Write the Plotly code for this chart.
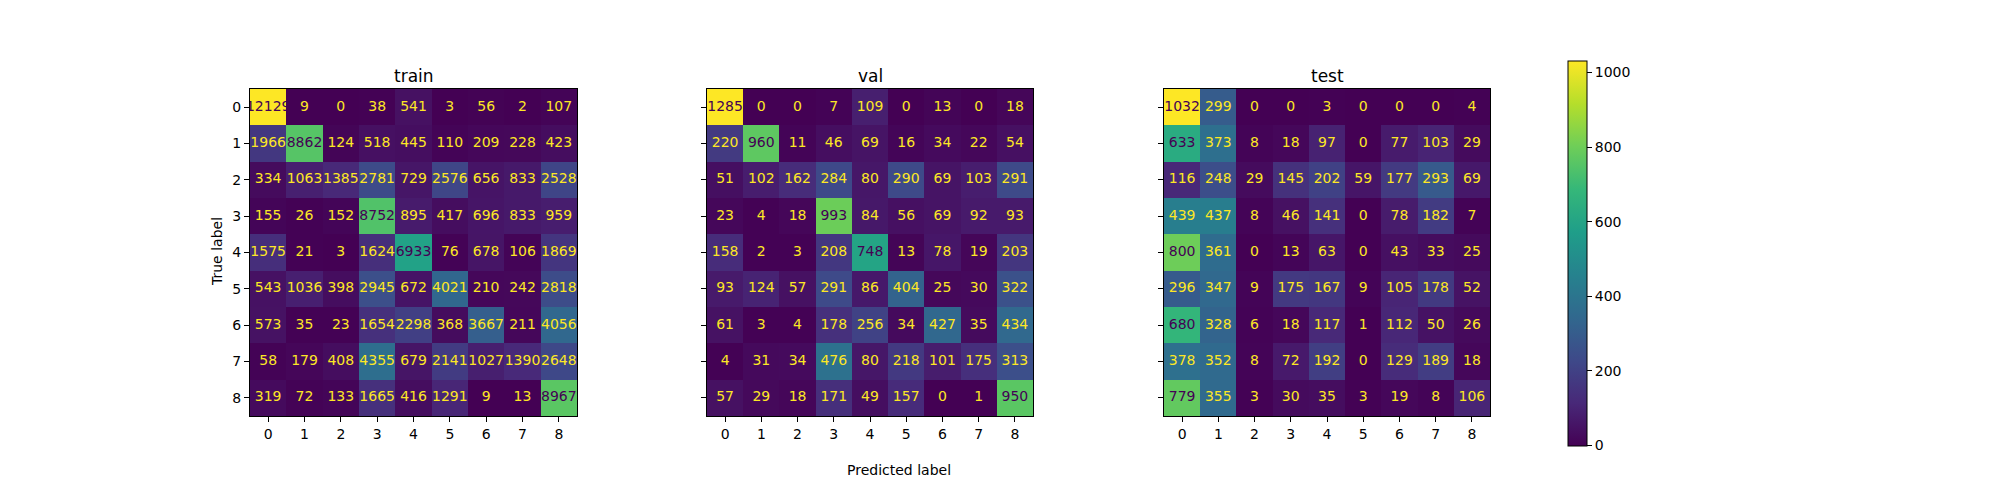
import plotly.graph_objects as go

labels = list(range(9))
panel_names = ["train", "val", "test"]

train_cm = [
    [12129, 9, 0, 38, 541, 3, 56, 2, 107],
    [1966, 8862, 124, 518, 445, 110, 209, 228, 423],
    [334, 1063, 1385, 2781, 729, 2576, 656, 833, 2528],
    [155, 26, 152, 8752, 895, 417, 696, 833, 959],
    [1575, 21, 3, 1624, 6933, 76, 678, 106, 1869],
    [543, 1036, 398, 2945, 672, 4021, 210, 242, 2818],
    [573, 35, 23, 1654, 2298, 368, 3667, 211, 4056],
    [58, 179, 408, 4355, 679, 2141, 1027, 1390, 2648],
    [319, 72, 133, 1665, 416, 1291, 9, 13, 8967],
]

val_cm = [
    [1285, 0, 0, 7, 109, 0, 13, 0, 18],
    [220, 960, 11, 46, 69, 16, 34, 22, 54],
    [51, 102, 162, 284, 80, 290, 69, 103, 291],
    [23, 4, 18, 993, 84, 56, 69, 92, 93],
    [158, 2, 3, 208, 748, 13, 78, 19, 203],
    [93, 124, 57, 291, 86, 404, 25, 30, 322],
    [61, 3, 4, 178, 256, 34, 427, 35, 434],
    [4, 31, 34, 476, 80, 218, 101, 175, 313],
    [57, 29, 18, 171, 49, 157, 0, 1, 950],
]

test_cm = [
    [1032, 299, 0, 0, 3, 0, 0, 0, 4],
    [633, 373, 8, 18, 97, 0, 77, 103, 29],
    [116, 248, 29, 145, 202, 59, 177, 293, 69],
    [439, 437, 8, 46, 141, 0, 78, 182, 7],
    [800, 361, 0, 13, 63, 0, 43, 33, 25],
    [296, 347, 9, 175, 167, 9, 105, 178, 52],
    [680, 328, 6, 18, 117, 1, 112, 50, 26],
    [378, 352, 8, 72, 192, 0, 129, 189, 18],
    [779, 355, 3, 30, 35, 3, 19, 8, 106],
]

matrices = [train_cm, val_cm, test_cm]
colorbar_ticks = [0, 200, 400, 600, 800, 1000]

# the page body has an 8px margin, so the figure is drawn 8px in from the
# window edge; screen positions below are converted to figure fractions
PAD = 8
W, H = 2000 - 2 * PAD, 500 - 2 * PAD


def fx(px):
    return (px - PAD) / W


def fy(px):
    return 1 - (px - PAD) / H


boxes = [(250, 577), (707, 1033), (1164, 1490)]
y_top, y_bot = 89, 416

DARK = "#440154"
LIGHT = "#fde725"

fig = go.Figure()

for i, (name, cm) in enumerate(zip(panel_names, matrices)):
    ax = "" if i == 0 else str(i + 1)
    zmax = max(max(r) for r in cm)
    zmin = min(min(r) for r in cm)
    thresh = (zmax + zmin) / 2.0

    hm = dict(
        z=cm, x=labels, y=labels,
        colorscale="Viridis", zmin=0, zmax=zmax,
        xaxis="x" + ax, yaxis="y" + ax,
        hoverinfo="skip",
        showscale=(i == 2),
    )
    if i == 2:
        hm["colorbar"] = dict(
            x=fx(1568), xanchor="left", xpad=0,
            y=fy(253), yanchor="middle", ypad=0,
            len=385 / H, lenmode="fraction", thickness=19,
            outlinewidth=1, outlinecolor="black",
            ticks="outside", ticklen=5, tickcolor="black",
            tickvals=colorbar_ticks,
            tickfont=dict(family="DejaVu Sans", size=14, color="black"),
        )
    fig.add_trace(go.Heatmap(**hm))

    xs, ys, txt, cols = [], [], [], []
    for r, row in enumerate(cm):
        for c, v in enumerate(row):
            xs.append(labels[c])
            ys.append(labels[r])
            txt.append(str(v))
            cols.append(DARK if v > thresh else LIGHT)
    fig.add_trace(go.Scatter(
        x=xs, y=ys, mode="text", text=txt,
        textfont=dict(family="DejaVu Sans", size=14, color=cols),
        xaxis="x" + ax, yaxis="y" + ax,
        hoverinfo="skip", showlegend=False,
    ))

    x0, x1 = boxes[i]
    axis_common = dict(
        showline=True, mirror=True, linecolor="black", linewidth=1,
        ticks="outside", ticklen=5, tickcolor="black",
        showgrid=False, zeroline=False,
        tickmode="array", tickvals=labels,
        tickfont=dict(family="DejaVu Sans", size=14, color="black"),
    )
    fig.update_layout(**{
        "xaxis" + ax: dict(axis_common, domain=[fx(x0), fx(x1)],
                           range=[-0.5, 8.5], anchor="y" + ax),
        "yaxis" + ax: dict(axis_common, domain=[fy(y_bot), fy(y_top)],
                           range=[8.5, -0.5], anchor="x" + ax,
                           showticklabels=(i == 0)),
    })
    fig.add_annotation(
        text=name, x=fx((x0 + x1) / 2), y=fy(76),
        xref="paper", yref="paper", showarrow=False,
        xanchor="center", yanchor="middle",
        font=dict(family="DejaVu Sans", size=17, color="black"),
    )

fig.add_annotation(
    text="True label", x=fx(217), y=fy(252), xref="paper", yref="paper",
    showarrow=False, textangle=-90, xanchor="center", yanchor="middle",
    font=dict(family="DejaVu Sans", size=14, color="black"),
)
fig.add_annotation(
    text="Predicted label", x=fx(899), y=fy(470), xref="paper", yref="paper",
    showarrow=False, xanchor="center", yanchor="middle",
    font=dict(family="DejaVu Sans", size=14, color="black"),
)

fig.update_layout(
    width=W, height=H,
    margin=dict(l=0, r=0, t=0, b=0),
    paper_bgcolor="white", plot_bgcolor="white",
    showlegend=False,
)

fig.write_html("out.html")
